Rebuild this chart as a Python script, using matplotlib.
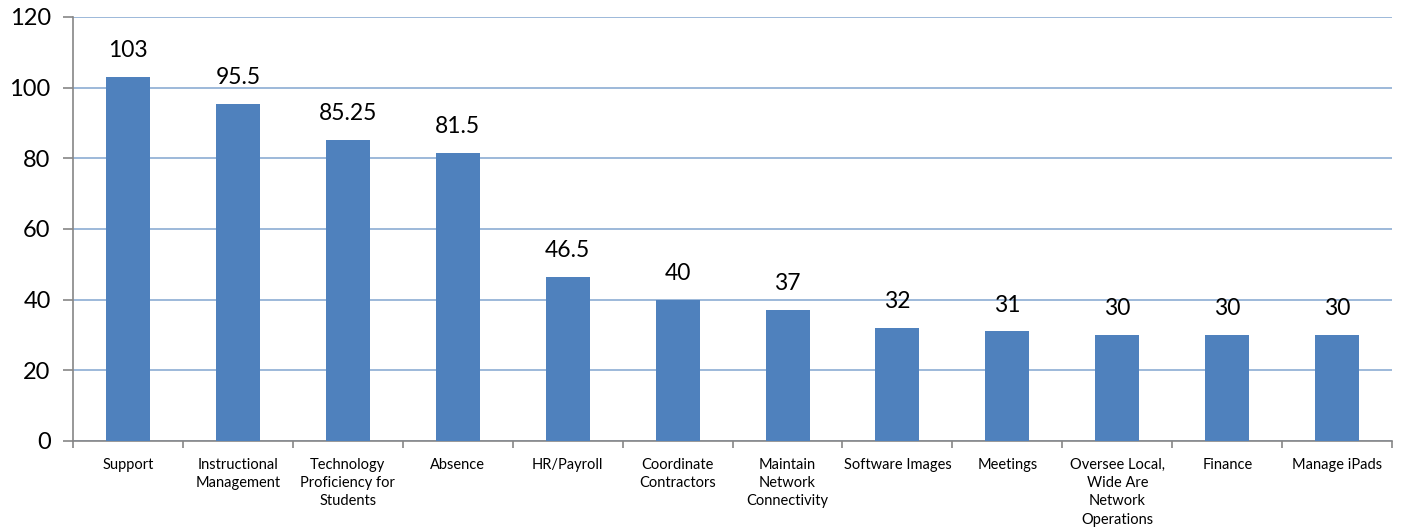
import numpy as np
import matplotlib.pyplot as plt

categories = ["Support", "Instructional\nManagement", "Technology\nProficiency for\nStudents",
              "Absence", "HR/Payroll", "Coordinate\nContractors", "Maintain\nNetwork\nConnectivity",
              "Software Images", "Meetings", "Oversee Local,\nWide Are\nNetwork\nOperations",
              "Finance", "Manage iPads"]
values = [103, 95.5, 85.25, 81.5, 46.5, 40, 37, 32, 31, 30, 30, 30]
value_labels = ["103", "95.5", "85.25", "81.5", "46.5", "40", "37", "32", "31", "30", "30", "30"]

plt.rcParams['font.family'] = ['Lato', 'DejaVu Sans']

fig = plt.figure(figsize=(14.02, 5.29), dpi=100)
ax = fig.add_axes([0.052, 0.1664, 0.941, 0.8016])

x = np.arange(len(categories))
ax.bar(x, values, width=0.4, color='#4F81BD', zorder=3)

for xi, v, lab in zip(x, values, value_labels):
    ax.annotate(lab, (xi, v), xytext=(0, 19), textcoords='offset points',
                ha='center', va='center', fontsize=16.5)

ax.set_ylim(0, 120)
ax.set_xlim(-0.5, len(categories) - 0.5)
ax.set_yticks(np.arange(0, 121, 20))
ax.yaxis.grid(True, color='#95B3D7', linewidth=1.3, zorder=0)
ax.tick_params(axis='y', labelsize=17, length=7, color='#868686', width=1.2, pad=9)

ax.set_xticks(x)
ax.set_xticklabels(categories, fontsize=10.5, linespacing=1.4)
ax.tick_params(axis='x', which='major', length=0, pad=12)
ax.set_xticks(np.arange(-0.5, len(categories), 1), minor=True)
ax.tick_params(axis='x', which='minor', length=5, color='#868686', width=1.2)

for s in ['top', 'right']:
    ax.spines[s].set_visible(False)
for s in ['left', 'bottom']:
    ax.spines[s].set_color('#868686')
    ax.spines[s].set_linewidth(1.2)

fig.savefig('out.png', dpi=100)
